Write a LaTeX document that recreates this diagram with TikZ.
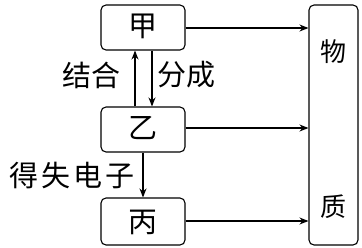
\documentclass[tikz,border=0pt]{standalone}
\usepackage{fontspec}
\newfontfamily\cjk{Noto Sans CJK SC}
\usetikzlibrary{arrows.meta}
\begin{document}
\begin{tikzpicture}[x=1pt,y=-1pt,
  box/.style={draw,line width=1.1pt,rounded corners=5pt,inner sep=0pt},
  arr/.style={line width=1.1pt,-{Stealth[length=9pt,width=7pt]}},
  lbl/.style={font=\cjk\fontsize{29}{29}\selectfont,inner sep=0pt}]
\useasboundingbox (0,0) rectangle (362,247);
\node[box,minimum width=84pt,minimum height=45pt] (jia) at (143,27.5) {};
\node[box,minimum width=84pt,minimum height=45pt] (yi) at (143,129.5) {};
\node[box,minimum width=84pt,minimum height=47pt] (bing) at (143,221.5) {};
\node[box,minimum width=49pt,minimum height=240pt] (wz) at (333.5,125) {};
\node[lbl] (tjia) at (143,26) {甲};
\node[lbl] (tyi) at (143,128) {乙};
\node[lbl] (tbing) at (143,222) {丙};
\node[lbl,font=\cjk\fontsize{26}{26}\selectfont] (twu) at (333.5,52) {物};
\node[lbl,font=\cjk\fontsize{26}{26}\selectfont] (tzhi) at (333.5,207) {质};
\node[lbl] (jh) at (91,75) {结合};
\node[lbl] (fc) at (186,75) {分成};
\node[lbl] (ds) at (72,175) {得\hspace{3pt}失\hspace{3pt}电\hspace{3pt}子};
\draw[arr] (jia.east |- 0,28) -- (wz.west |- 0,28);
\draw[arr] (yi.east |- 0,128) -- (wz.west |- 0,128);
\draw[arr] (bing.east |- 0,221) -- (wz.west |- 0,221);
\draw[arr] (yi.north -| 135,0) -- (jia.south -| 135,0);
\draw[arr] (jia.south -| 152,0) -- (yi.north -| 152,0);
\draw[arr] (yi.south -| 143,0) -- (bing.north -| 143,0);
\end{tikzpicture}
\end{document}
